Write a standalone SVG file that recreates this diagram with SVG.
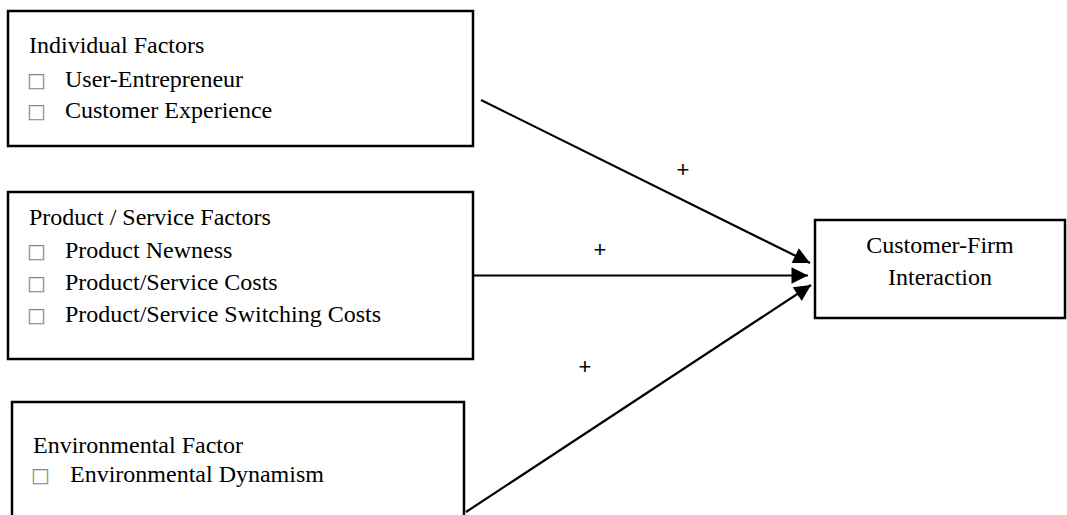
<svg xmlns="http://www.w3.org/2000/svg" width="1067" height="515" viewBox="0 0 1067 515">
<style>
.box{fill:#fff;stroke:#000;stroke-width:2.5}
.t{font-family:"Liberation Serif","Times New Roman",serif;font-size:24px;fill:#000}
.b{font-family:"DejaVu Sans",sans-serif;font-size:20px;fill:#888}
.c{stroke:#000;stroke-width:2.2;fill:none}
.p{font-family:"Liberation Sans",Arial,sans-serif;font-size:22px;fill:#000}
</style>
<defs>
<marker id="ah" viewBox="0 0 10 10" refX="10" refY="5" markerWidth="8" markerHeight="7.5" markerUnits="strokeWidth" orient="auto">
<path d="M0,0 L10,5 L0,10 z" fill="#000"/>
</marker>
</defs>
<rect width="1067" height="515" fill="#fff"/>
<g id="individual">
<rect class="box" x="8" y="11" width="465" height="135"/>
<text class="t" x="29" y="53">Individual Factors</text>
<text class="b" x="27" y="87">□</text><text class="t" x="65" y="87">User-Entrepreneur</text>
<text class="b" x="27" y="118">□</text><text class="t" x="65" y="118">Customer Experience</text>
</g>
<g id="product">
<rect class="box" x="8" y="192" width="465" height="167"/>
<text class="t" x="29" y="225">Product / Service Factors</text>
<text class="b" x="27" y="258">□</text><text class="t" x="65" y="258">Product Newness</text>
<text class="b" x="27" y="290">□</text><text class="t" x="65" y="290">Product/Service Costs</text>
<text class="b" x="27" y="322">□</text><text class="t" x="65" y="322">Product/Service Switching Costs</text>
</g>
<g id="environmental">
<rect class="box" x="12" y="402" width="452" height="130"/>
<text class="t" x="33" y="453">Environmental Factor</text>
<text class="b" x="31" y="482">□</text><text class="t" x="70" y="482">Environmental Dynamism</text>
</g>
<g id="interaction">
<rect class="box" x="815" y="220" width="250" height="98"/>
<text class="t" x="940" y="253" text-anchor="middle">Customer-Firm</text>
<text class="t" x="940" y="285" text-anchor="middle">Interaction</text>
</g>
<g id="connectors">
<line class="c" x1="481" y1="100" x2="810" y2="263" marker-end="url(#ah)"/>
<line class="c" x1="473" y1="275.5" x2="808" y2="275.5" marker-end="url(#ah)"/>
<line class="c" x1="466" y1="512" x2="811" y2="285" marker-end="url(#ah)"/>
<text class="p" x="683" y="177" text-anchor="middle">+</text>
<text class="p" x="600" y="257" text-anchor="middle">+</text>
<text class="p" x="585" y="374" text-anchor="middle" font-size="17">+</text>
</g>
</svg>
